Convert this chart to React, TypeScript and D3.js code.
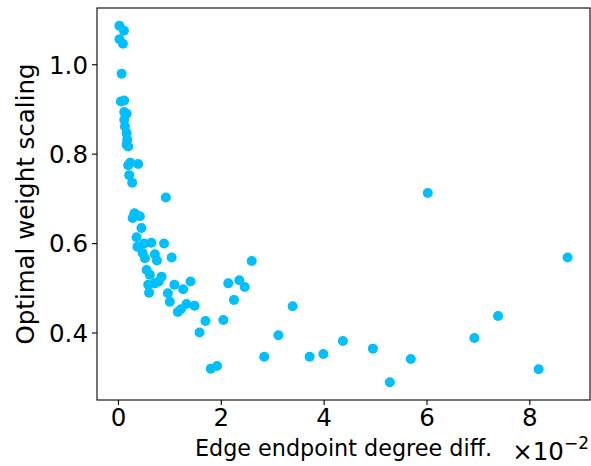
import React from "react";
import * as d3 from "d3";

// x values in units of 1e-2 (axis shows ×10^-2 offset)
const xValues: number[] = [
  0.019, 0.107, 0.019, 0.087, 0.062, 0.049, 0.113, 0.113, 0.159, 0.113,
  0.126, 0.159, 0.171, 0.159, 0.19, 0.229, 0.384, 0.19, 0.21, 0.268,
  0.922, 0.311, 0.353, 0.276, 0.417, 0.447, 0.353, 0.501, 0.641, 0.887,
  0.369, 0.47, 0.709, 0.515, 0.748, 1.035, 0.548, 0.612, 0.839, 0.786,
  0.579, 0.709, 0.596, 1.087, 1.258, 1.402, 0.961, 1.0, 1.155, 1.214,
  1.324, 1.48, 1.693, 1.577, 2.039, 2.136, 2.35, 2.456, 2.247, 2.592,
  1.796, 1.918, 2.835, 3.111, 3.388, 3.718, 3.984, 4.365, 4.948, 5.278,
  5.685, 6.016, 6.922, 7.382, 8.171, 8.734,
];
const yValues: number[] = [
  1.087, 1.076, 1.057, 1.047, 0.98, 0.918, 0.92, 0.894, 0.89, 0.877,
  0.862, 0.847, 0.832, 0.821, 0.817, 0.781, 0.778, 0.775, 0.753, 0.736,
  0.703, 0.668, 0.664, 0.657, 0.661, 0.635, 0.614, 0.6, 0.602, 0.6,
  0.593, 0.579, 0.576, 0.567, 0.562, 0.569, 0.541, 0.53, 0.526, 0.515,
  0.508, 0.511, 0.49, 0.508, 0.498, 0.515, 0.489, 0.47, 0.447, 0.453,
  0.465, 0.461, 0.427, 0.401, 0.429, 0.511, 0.518, 0.503, 0.474, 0.561,
  0.32, 0.326, 0.347, 0.395, 0.46, 0.347, 0.353, 0.382, 0.365, 0.29,
  0.342, 0.713, 0.389, 0.438, 0.319, 0.569,
];
const xTicks: number[] = [0, 2, 4, 6, 8];
const yTicks: number[] = [0.4, 0.6, 0.8, 1.0];
const xLabel = "Edge endpoint degree diff.";
const yLabel = "Optimal weight scaling";

const W = 591;
const H = 466;
const M = { left: 97, right: 590, top: 8, bottom: 400 };
const FONT = "DejaVu Sans, sans-serif";

function padded(ext: [number, number]): [number, number] {
  const r = ext[1] - ext[0];
  return [ext[0] - 0.05 * r, ext[1] + 0.05 * r];
}

export default function App() {
  const points = xValues.map((x, i) => ({ x, y: yValues[i] }));
  const xs = d3
    .scaleLinear()
    .domain(padded(d3.extent(xValues) as [number, number]))
    .range([M.left, M.right]);
  const ys = d3
    .scaleLinear()
    .domain(padded(d3.extent(yValues) as [number, number]))
    .range([M.bottom, M.top]);

  return (
    <svg
      width={W}
      height={H}
      style={{ position: "absolute", left: 0, top: 0, background: "#fff" }}
      fontFamily={FONT}
    >
      <rect x={0} y={0} width={W} height={H} fill="#fff" />
      {points.map((p, i) => (
        <circle key={i} cx={xs(p.x)} cy={ys(p.y)} r={5} fill="#00BFFF" />
      ))}
      <rect
        x={M.left}
        y={M.top}
        width={M.right - M.left}
        height={M.bottom - M.top}
        fill="none"
        stroke="#000"
        strokeWidth={1.1}
      />
      {xTicks.map((t) => (
        <g key={"x" + t}>
          <line x1={xs(t)} x2={xs(t)} y1={M.bottom} y2={M.bottom + 5} stroke="#000" strokeWidth={1.1} />
          <text x={xs(t)} y={426} textAnchor="middle" fontSize={24.5} fill="#000">
            {d3.format("d")(t)}
          </text>
        </g>
      ))}
      {yTicks.map((t) => (
        <g key={"y" + t}>
          <line x1={M.left - 5} x2={M.left} y1={ys(t)} y2={ys(t)} stroke="#000" strokeWidth={1.1} />
          <text x={M.left - 9} y={ys(t)} dy="0.36em" textAnchor="end" fontSize={24.5} fill="#000">
            {d3.format(".1f")(t)}
          </text>
        </g>
      ))}
      <text
        transform={`translate(34,${(M.top + M.bottom) / 2}) rotate(-90)`}
        textAnchor="middle"
        fontSize={24.5}
        fill="#000"
      >
        {yLabel}
      </text>
      <text x={(M.left + M.right) / 2} y={456} textAnchor="middle" fontSize={22.3} fill="#000">
        {xLabel}
      </text>
      <text x={M.right - 1} y={460} textAnchor="end" fontSize={24.5} fill="#000">
        ×10
        <tspan fontSize={17} dy={-11}>−2</tspan>
      </text>
    </svg>
  );
}
